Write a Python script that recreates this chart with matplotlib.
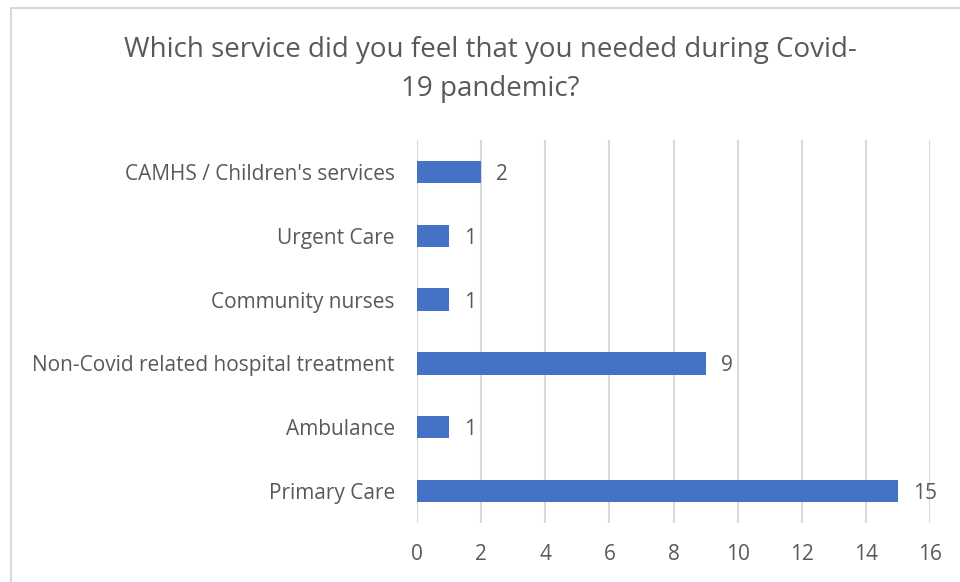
import matplotlib.pyplot as plt
from matplotlib.patches import Rectangle

services = [
    "CAMHS / Children's services",
    "Urgent Care",
    "Community nurses",
    "Non-Covid related hospital treatment",
    "Ambulance",
    "Primary Care",
]
counts = [2, 1, 1, 9, 1, 15]
x_ticks = [0, 2, 4, 6, 8, 10, 12, 14, 16]

BAR = "#4472C4"
GRID = "#D9D9D9"
TEXT = "#595959"

plt.rcParams["font.family"] = ["Open Sans", "DejaVu Sans"]

fig = plt.figure(figsize=(9.6, 5.82), dpi=100)
ax = fig.add_axes([417 / 960, 1 - 523 / 582, 513 / 960, 383 / 582])

pos = list(range(len(services)))
ax.barh(pos, counts, height=0.35, color=BAR, zorder=3)
for y, v in zip(pos, counts):
    ax.annotate(str(v), (v, y), xytext=(11, 0), textcoords="offset points",
                va="center_baseline", ha="left", fontsize=15, color=TEXT)

ax.set_yticks(pos)
ax.set_yticklabels(services, va="center_baseline")
ax.set_ylim(len(services) - 0.5, -0.5)
ax.set_xlim(0, 16)
ax.set_xticks(x_ticks)

ax.grid(axis="x", color=GRID, linewidth=1.5, zorder=0)
for s in ax.spines.values():
    s.set_visible(False)
ax.tick_params(length=0, labelsize=15, labelcolor=TEXT)
ax.tick_params(axis="y", pad=16)
ax.tick_params(axis="x", pad=15)

fig.text(490 / 960, 1 - 50 / 582, "Which service did you feel that you needed during Covid-",
         ha="center", va="center", fontsize=20, color=TEXT)
fig.text(490 / 960, 1 - 89 / 582, "19 pandemic?",
         ha="center", va="center", fontsize=20, color=TEXT)

# chart frame, cut off on the right and bottom
fig.patches.append(Rectangle((11 / 960, -0.1), 1.2, 1.1 - 8 / 582,
                             transform=fig.transFigure, fill=False,
                             edgecolor=GRID, linewidth=1.5))

fig.savefig("out.png", dpi=100)
